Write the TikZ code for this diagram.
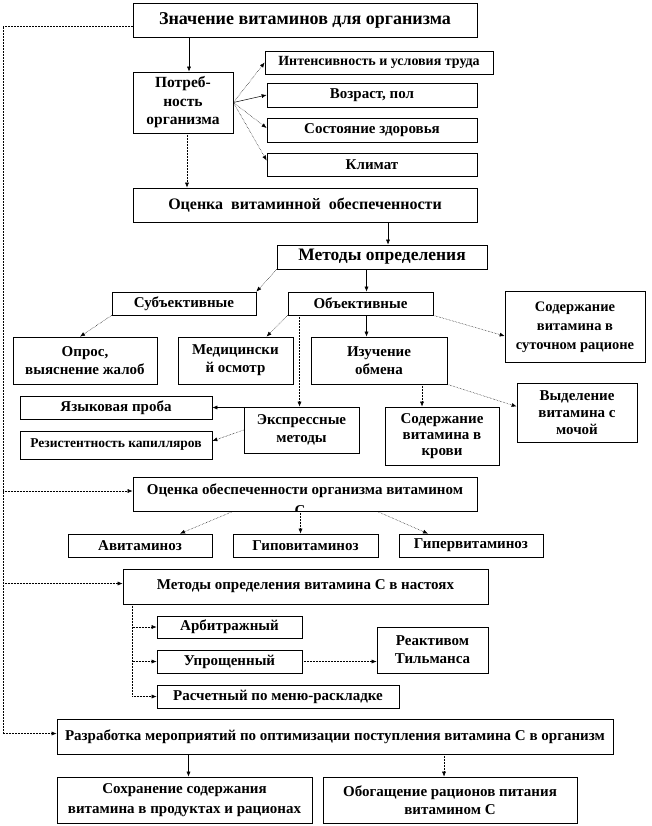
\documentclass[tikz,border=0pt]{standalone}
\usepackage{fontspec}
\setmainfont{Liberation Serif}
\usetikzlibrary{arrows.meta}

\begin{document}
\begin{tikzpicture}[x=1pt, y=-1pt,
    box/.style={draw, line width=0.7pt, fill=white, align=center, inner sep=0pt,
      font=\bfseries\fontsize{15}{18}\selectfont},
    arr/.style={-{Latex[length=5pt,width=4pt]}, line width=0.5pt},
    dots/.style={arr, densely dotted}]
    \useasboundingbox (0,0) rectangle (652,826);

    % Necesidad del organismo
    \node[box, minimum width=344, minimum height=34, font=\bfseries\fontsize{18}{20}\selectfont] (znach) at (305,20) {Значение витаминов для организма};
    \node[box, minimum width=100, minimum height=61, font=\bfseries\fontsize{15.5}{18.5}\selectfont] (potr) at (183,102.5) {Потреб-\\ность\\организма};
    \node[box, minimum width=228, minimum height=23, font=\bfseries\fontsize{14}{18}\selectfont] (intens) at (379,62.5) {Интенсивность и условия труда};
    \node[box, minimum width=210, minimum height=24] (vozr) at (372,95) {Возраст, пол};
    \node[box, minimum width=210, minimum height=24] (sost) at (372,130) {Состояние здоровья};
    \node[box, minimum width=210, minimum height=23] (klim) at (372,164.5) {Климат};

    \draw[arr] ([xshift=6pt]potr.north |- znach.south) -- ([xshift=6pt]potr.north);
    \draw[dots] (potr.east) -- (intens.west);
    \draw[arr] (potr.east) -- (vozr.west);
    \draw[dots] (potr.east) -- ([yshift=2pt]sost.west);
    \draw[dots] (potr.east) -- ([yshift=4pt]klim.west);

    % Evaluacion y metodos
    \node[box, minimum width=344, minimum height=34, font=\bfseries\fontsize{16}{18}\selectfont] (ocenka) at (305,205) {Оценка\ \ витаминной\ \ обеспеченности};
    \node[box, minimum width=210, minimum height=24, font=\bfseries\fontsize{17.5}{18}\selectfont] (metody) at (382,257) {Методы определения};
    \node[box, minimum width=144, minimum height=23] (subj) at (184,303.5) {Субъективные};
    \node[box, minimum width=145, minimum height=23] (obj) at (360.5,303.5) {Объективные};
    \node[box, minimum width=140, minimum height=71, font=\bfseries\fontsize{14.5}{19}\selectfont] (sodsut) at (575,327) {Содержание\\витамина в\\суточном рационе};

    \draw[dots] ([xshift=4pt]potr.south) -- ([xshift=4pt]potr.south |- ocenka.north);
    \draw[arr] ([xshift=6pt]metody.north |- ocenka.south) -- ([xshift=6pt]metody.north);
    \draw[dots] (metody.south west) -- (subj.north east);
    \draw[arr] ([xshift=6pt]obj.north |- metody.south) -- ([xshift=6pt]obj.north);
    \draw[dots] (obj.south east) -- ([yshift=-9pt]sodsut.west);

    % Metodos objetivos
    \node[box, minimum width=144, minimum height=47] (opros) at (85,360.5) {Опрос,\\выяснение жалоб};
    \node[box, minimum width=115, minimum height=47] (med) at (235.5,360.5) {Медицински\\й осмотр};
    \node[box, minimum width=136, minimum height=47] (izuch) at (379,360.5) {Изучение\\обмена};
    \node[box, minimum width=192, minimum height=23] (yazyk) at (116,407.5) {Языковая проба};
    \node[box, minimum width=192, minimum height=28, font=\bfseries\fontsize{13.5}{18}\selectfont] (rezist) at (116,445) {Резистентность капилляров};
    \node[box, minimum width=115, minimum height=46] (express) at (301.5,430) {Экспрессные\\методы};
    \node[box, minimum width=114, minimum height=58, font=\bfseries\fontsize{15}{16}\selectfont] (sodkrov) at (442,436) {Содержание\\витамина в\\крови};
    \node[box, minimum width=120, minimum height=59, font=\bfseries\fontsize{15}{17}\selectfont] (vydel) at (577,412.5) {Выделение\\витамина с\\мочой};

    \draw[dots] (subj.south west) -- ([xshift=-5pt]opros.north);
    \draw[dots] (obj.south west) -- ([xshift=31pt]med.north);
    \draw[arr] ([xshift=6pt]obj.south) -- ([xshift=6pt]obj.south |- izuch.north);
    \draw[dots] ([xshift=-2pt]express.north |- obj.south) -- ([xshift=-2pt]express.north);
    \draw[dots] ([xshift=-20pt]sodkrov.north |- izuch.south) -- ([xshift=-20pt]sodkrov.north);
    \draw[dots] (izuch.south east) -- ([yshift=6pt]vydel.west);
    \draw[arr] (yazyk.east -| express.west) -- (yazyk.east);
    \draw[dots] (express.west) -- ([yshift=4pt]rezist.east);

    % Estado vitaminico
    \node[box, minimum width=344, minimum height=34] (ocenkaC) at (305,494) {};
    \node[font=\bfseries\fontsize{15}{18}\selectfont] (ocenkaCtxt) at (305,491) {Оценка обеспеченности организма витамином};
    \begin{scope}
        \clip (ocenkaC.north west) rectangle (ocenkaC.south east);
        \node[font=\bfseries\fontsize{15}{18}\selectfont] (ocenkaCc) at (300,511) {С};
    \end{scope}
    \node[box, minimum width=144, minimum height=23] (avit) at (140,545.5) {Авитаминоз};
    \node[box, minimum width=145, minimum height=23] (gipo) at (305.5,545.5) {Гиповитаминоз};
    \node[box, minimum width=144, minimum height=23] (giper) at (471,545.5) {Гипервитаминоз};

    \draw[dots] ([xshift=-72pt]ocenkaC.south) -- ([xshift=40pt]avit.north);
    \draw[dots] ([xshift=-5pt]gipo.north |- ocenkaC.south) -- ([xshift=-5pt]gipo.north);
    \draw[dots] ([xshift=72pt]ocenkaC.south) -- ([xshift=-43pt]giper.north);

    % Vitamina C en infusiones
    \node[box, minimum width=365, minimum height=35] (metodyC) at (305.5,586.5) {Методы определения витамина С в настоях};
    \node[box, minimum width=145, minimum height=22] (arbit) at (229.5,627) {Арбитражный};
    \node[box, minimum width=145, minimum height=23] (upros) at (229.5,661.5) {Упрощенный};
    \node[box, minimum width=242, minimum height=23] (rasch) at (278,696.5) {Расчетный по меню-раскладке};
    \node[box, minimum width=111, minimum height=46] (reakt) at (432.5,650) {Реактивом\\Тильманса};

    \draw[dots] ([xshift=10pt]metodyC.south west) |- (arbit.west);
    \draw[dots] ([xshift=10pt]metodyC.south west) |- (upros.west);
    \draw[dots] ([xshift=10pt]metodyC.south west) |- (rasch.west);
    \draw[dots] (upros.east) -- (upros.east -| reakt.west);

    % Medidas
    \node[box, minimum width=556, minimum height=35] (razrab) at (335,736.5) {Разработка мероприятий по оптимизации поступления витамина С в организм};
    \node[box, minimum width=255, minimum height=46, font=\bfseries\fontsize{15}{20}\selectfont] (sohr) at (184.5,800) {Сохранение содержания\\витамина в продуктах и рационах};
    \node[box, minimum width=254, minimum height=46] (obog) at (450,800) {Обогащение рационов питания\\витамином С};

    \draw[arr] ([xshift=4pt]sohr.north |- razrab.south) -- ([xshift=4pt]sohr.north);
    \draw[dots] ([xshift=-6pt]obog.north |- razrab.south) -- ([xshift=-6pt]obog.north);

    % Linea izquierda
    \coordinate (lft) at (3,26);
    \draw[dots] ([yshift=-6pt]znach.west) -- (lft) |- ([yshift=3pt]razrab.west);
    \draw[dots] (lft |- ocenkaCtxt) -- (ocenkaC.west |- ocenkaCtxt);
    \draw[dots] ([yshift=3pt]metodyC.west -| lft) -- ([yshift=3pt]metodyC.west);
\end{tikzpicture}
\end{document}
